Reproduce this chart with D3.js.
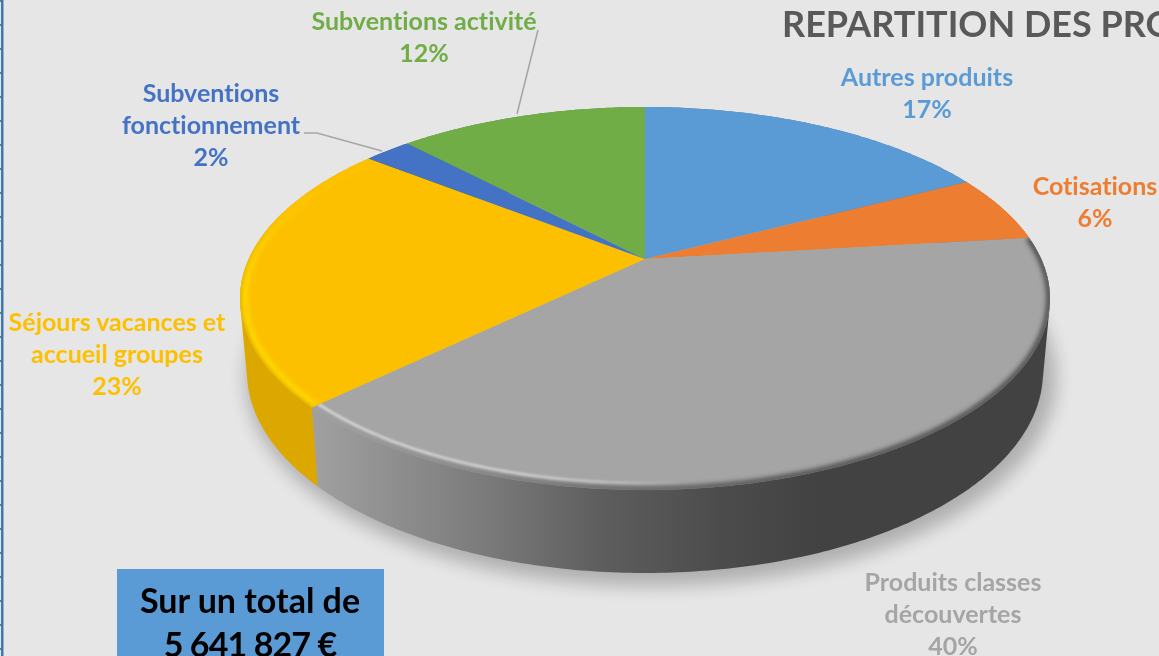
<!DOCTYPE html>
<html><head><meta charset="utf-8">
<script src="https://cdn.jsdelivr.net/npm/d3@7/dist/d3.min.js"></script>
<style>html,body{margin:0;padding:0;background:#e6e6e6;overflow:hidden}svg{display:block;filter:blur(.45px)}text{font-family:Lato,"Open Sans",sans-serif;font-weight:700;font-variant-ligatures:none}</style>
</head><body><script>
const categories = ["Autres produits","Cotisations","Produits classes découvertes","Séjours vacances et accueil groupes","Subventions fonctionnement","Subventions activité"];
const values = [17.4,5.7,39.7,22.8,2.3,12.1];
const colors = ["#5b9bd5","#ed7d31","#a5a5a5","#fdc000","#4472c4","#70ad47"];
const labelLines = [["Autres produits","17%"],["Cotisations","6%"],["Produits classes","découvertes","40%"],["Séjours vacances et","accueil groupes","23%"],["Subventions","fonctionnement","2%"],["Subventions activité","12%"]];
const labelPos = [[927,86],[1095,195],[953,591],[117,331],[211,102],[424,30]];
const titleText = "REPARTITION DES PRODUITS";
const totalLines = ["Sur un total de","5 641 827 €"];

const W=1159,H=656;
const svg=d3.select("body").append("svg").attr("width",W).attr("height",H);
svg.append("rect").attr("width",W).attr("height",H).attr("fill","#e6e6e6");
const defs=svg.append("defs");
const blur=(id,s)=>defs.append("filter").attr("id",id).attr("x","-20%").attr("y","-20%").attr("width","140%").attr("height","140%").append("feGaussianBlur").attr("stdDeviation",s);
blur("shadow",9);blur("soft",2.4);blur("fine",1.2);blur("fineY",2);
const grad=(id,x1,x2,y1,y2,stops)=>{const g=defs.append("linearGradient").attr("id",id).attr("gradientUnits","userSpaceOnUse").attr("x1",x1).attr("x2",x2).attr("y1",y1).attr("y2",y2);
 stops.forEach(s=>g.append("stop").attr("offset",s[0]).attr("stop-color",s[1]).attr("stop-opacity",s[2]===undefined?1:s[2]));};
const sideStops=[[0,"#a0a0a0"],[.225,"#7c7c7c"],[.387,"#5e5e5e"],[.55,"#4c4c4c"],[.685,"#424242"],[1,"#424242"]];
grad("graySide",314,1050,0,0,sideStops);
grad("grayGlint",314,1050,0,0,[[0,"#e4e4e4",.85],[.3,"#e0e0e0",.8],[.42,"#dcdcdc",.5],[.52,"#d0d0d0",0],[1,"#d0d0d0",0]]);
grad("yelEdge",0,0,200,330,[[0,"#dca800",0],[1,"#dca800",1]]);
grad("yelGlint",0,0,190,290,[[0,"#ffdc00",.1],[1,"#ffdc00",1]]);

// left sheet edge
svg.append("rect").attr("x",1).attr("width",2.5).attr("height",H).attr("fill","#3f78b0");
svg.selectAll("rect.tick").data(d3.range(0,H,24)).join("rect").attr("class","tick").attr("x",0).attr("y",d=>d).attr("width",1).attr("height",2).attr("fill","#777");

// projected disc: an off-centre homography of the unit circle
const topE={cx:645,cy:298.5,rx:405,ry:191.5}, botE={cx:645,cy:372,rx:398,ry:201};
const a=-0.206;
const proj=(e,th,r=1)=>{const u=r*Math.sin(th),v=-r*Math.cos(th),d=1+a*v,k=Math.sqrt(1-a*a);
 return [e.cx+e.rx*u*k/d,e.cy+e.ry*(v+a)/d];};
const inset=(e,n)=>({...e,rx:e.rx-n,ry:e.ry-n});
const pie=d3.pie().sort(null).value(d=>d);
const arcs=pie(values);
const line=d3.line();
const samples=(s,e)=>{const n=Math.max(4,Math.ceil((e-s)*80));return d3.range(n+1).map(i=>s+(e-s)*i/n);};
const rim=(E,d)=>samples(d.startAngle,d.endAngle).map(t=>proj(E,t));
const slicePath=d=>line([proj(topE,0,0),...rim(topE,d)])+"Z";
const sidePath=d=>line(d3.polygonHull([...rim(topE,d),...rim(botE,d)]))+"Z";

// ground shadow
svg.append("ellipse").attr("cx",botE.cx+6).attr("cy",botE.cy+6).attr("rx",botE.rx+7).attr("ry",botE.ry+7).attr("fill","#000").attr("opacity",.24).attr("filter","url(#shadow)");

// side wall, back to front so the large front slice overlaps its neighbours' hulls
const sideFill=i=>i===2?"url(#graySide)":i===3?"#dca800":d3.color(colors[i]).darker(.6);
svg.selectAll("path.side").data(arcs.slice().reverse()).join("path").attr("class","side").attr("d",sidePath).attr("fill",d=>sideFill(d.index));

// top face
svg.selectAll("path.face").data(arcs).join("path").attr("class","face").attr("d",slicePath).attr("fill",(d,i)=>colors[i]);

// bevel on the front rim: soft blend into the wall, then a thin glint just inside it
arcs.forEach((d,i)=>{ if(i!==2&&i!==3) return;
 const c=defs.append("clipPath").attr("id","clip"+i);
 c.append("path").attr("d",slicePath(d));
 const g=svg.append("g").attr("clip-path",`url(#clip${i})`);
 g.append("path").attr("d",line(rim(inset(topE,1),d))).attr("fill","none")
  .attr("stroke",i===2?"url(#graySide)":"url(#yelEdge)").attr("stroke-width",5).attr("filter","url(#soft)");
 g.append("path").attr("d",line(rim(inset(topE,i===2?7:5),d))).attr("fill","none")
  .attr("stroke",i===2?"url(#grayGlint)":"url(#yelGlint)").attr("stroke-width",i===2?2.4:5).attr("filter",i===2?"url(#fine)":"url(#fineY)");
});

// leader lines
const leaders=[[[517,114],[538,30]],[[304,133],[317,133],[382,151]]];
svg.selectAll("path.leader").data(leaders).join("path").attr("class","leader").attr("d",d=>line(d)).attr("fill","none").attr("stroke","#a6a6a6").attr("stroke-width",1.5);

// labels
const lh=32;
labelLines.forEach((ls,i)=>{
 const t=svg.append("text").attr("x",labelPos[i][0]).attr("y",labelPos[i][1]).attr("text-anchor","middle").attr("font-size",25).attr("fill",colors[i]);
 ls.forEach((s,j)=>t.append("tspan").attr("x",labelPos[i][0]).attr("dy",j?lh:0).text(s));
});

// title
svg.append("text").attr("x",782).attr("y",37).attr("font-size",36).attr("fill","#595959").text(titleText);

// total box
svg.append("rect").attr("x",117).attr("y",569).attr("width",267).attr("height",87).attr("fill","#5b9bd5");
totalLines.forEach((s,j)=>svg.append("text").attr("x",250).attr("y",613+j*44).attr("text-anchor","middle").attr("font-size",34).attr("letter-spacing",j?-.9:0).attr("fill","#000").text(s));
</script></body></html>
